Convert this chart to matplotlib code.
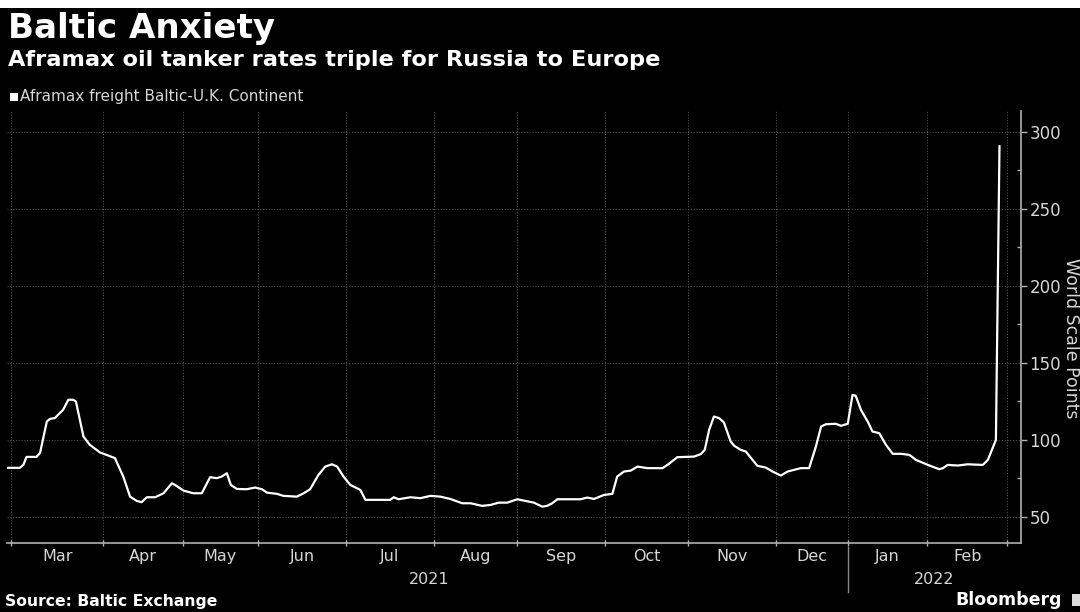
import numpy as np
import matplotlib
matplotlib.use("Agg")
import matplotlib.pyplot as plt
from matplotlib.patches import Rectangle
from matplotlib.lines import Line2D

# ---------------- data ----------------
months = ['Mar', 'Apr', 'May', 'Jun', 'Jul', 'Aug', 'Sep', 'Oct', 'Nov', 'Dec', 'Jan', 'Feb']
trading_days = [23, 20, 19, 22, 22, 21, 22, 21, 22, 18, 20, 20]   # business days per month
years = ['2021', '2022']
year_first_month = [0, 10]  # index into months

# x = trading-day index since 1 Mar 2021, y = World Scale points
day_idx = [-1.1, 2.1, 3.0, 3.8, 6.3, 7.2, 8.9, 9.7, 10.9, 13.0, 14.3, 15.5, 16.2, 18.1, 19.7,
           22.3, 23.9, 26.0, 28.1, 29.8, 31.5, 32.7, 34.0, 36.1, 38.2, 40.3, 41.1, 43.2, 45.7,
           47.8, 49.9, 51.6, 52.8, 54.1, 55.1, 56.6, 59.1, 61.2, 62.9, 64.2, 66.7, 68.3, 71.7,
           73.4, 75.0, 77.1, 78.8, 80.5, 81.8, 83.4, 85.1, 87.6, 88.9, 95.1, 96.0, 97.2, 100.2,
           102.7, 105.2, 107.7, 110.2, 113.2, 115.3, 118.2, 120.3, 122.4, 124.5, 127.0, 129.1,
           131.2, 133.3, 134.5, 135.8, 137.1, 142.9, 144.6, 146.3, 148.8, 150.9, 152.1, 153.8,
           155.5, 157.2, 159.7, 163.5, 165.1, 167.2, 171.4, 173.1, 174.1, 175.2, 176.4, 177.7,
           178.9, 180.6, 181.5, 183.1, 184.4, 187.3, 189.4, 191.1, 193.2, 194.9, 198.2, 200.3,
           202.0, 203.3, 204.5, 207.0, 208.3, 210.0, 211.2, 212.0, 213.3, 215.0, 216.2, 217.9,
           219.6, 221.3, 223.4, 225.5, 227.1, 230.1, 233.0, 233.9, 235.1, 237.6, 240.1, 243.9,
           245.2, 247.2, 248.1]
rate = [81.7, 81.7, 83.6, 88.8, 88.8, 91.4, 111.8, 113.5, 114.0, 119.4, 125.9, 125.9, 124.8,
        102.0, 96.6, 91.6, 90.1, 88.0, 76.0, 63.0, 60.2, 59.4, 62.6, 62.6, 65.2, 71.7, 70.6,
        66.9, 65.2, 65.2, 75.6, 75.0, 76.0, 78.2, 70.6, 68.0, 67.8, 68.9, 67.8, 65.6, 64.8,
        63.5, 63.0, 65.2, 67.8, 77.1, 82.5, 84.0, 82.5, 76.0, 70.6, 67.4, 60.9, 60.9, 62.6,
        61.3, 62.6, 62.0, 63.5, 63.0, 61.5, 58.7, 58.7, 57.0, 57.6, 59.1, 59.1, 61.3, 60.2,
        59.1, 56.5, 57.0, 58.7, 61.3, 61.3, 62.4, 61.5, 64.1, 64.8, 76.0, 79.3, 79.9, 82.5,
        81.5, 81.5, 84.3, 88.6, 89.0, 90.6, 93.4, 106.4, 115.0, 114.0, 111.2, 98.8, 96.0, 93.4,
        92.3, 83.0, 81.9, 79.3, 76.7, 79.3, 81.5, 81.5, 95.5, 108.5, 110.0, 110.3, 109.0,
        110.3, 129.1, 128.5, 119.4, 111.8, 105.3, 104.2, 96.6, 90.8, 90.8, 90.1, 86.9, 83.6,
        80.8, 81.5, 83.6, 83.2, 84.0, 83.6, 86.9, 99.9, 290.5]
y_ticks = [50, 100, 150, 200, 250, 300]
y_minor = [75, 125, 175, 225, 275]

W, H = 1080, 612
BG = 'black'
GRID = '#4e4e4e'
AXC = '#b0b0b0'
TXT = '#d6d6d6'

fig = plt.figure(figsize=(W / 100, H / 100), dpi=100, facecolor=BG)
plt.rcParams['font.family'] = ['DejaVu Sans']

def px_x(x):
    return x / W

def px_y(y):
    return 1 - y / H

ax_left, ax_right, ax_top, ax_bot = 7, 1021, 111, 543.3
ax = fig.add_axes([px_x(ax_left), px_y(ax_bot), (ax_right - ax_left) / W, (ax_bot - ax_top) / H])
ax.set_facecolor(BG)

ax.plot(day_idx, rate, color='white', lw=1.6, solid_joinstyle='round', zorder=3)

bounds = np.concatenate([[0], np.cumsum(trading_days)])
centers = (bounds[:-1] + bounds[1:]) / 2

ax.set_xlim(-1.1, 253.5)
ax.set_ylim(32.7, 313.4)

# grid
for b in bounds:
    ax.axvline(b, color=GRID, lw=0.8, ls=(0, (1, 1.5)), zorder=1)
for yv in y_ticks:
    ax.axhline(yv, color=GRID, lw=0.8, ls=(0, (1, 1.5)), zorder=1)

# spines
for s in ['left', 'top']:
    ax.spines[s].set_visible(False)
for s in ['bottom', 'right']:
    ax.spines[s].set_color(AXC)
    ax.spines[s].set_linewidth(1.2)

# x ticks
ax.set_xticks(bounds)
ax.set_xticklabels([])
ax.set_xticks(centers, minor=True)
ax.set_xticklabels(months, minor=True)
ax.tick_params(axis='x', which='major', length=4, width=1, color=AXC, direction='inout')
ax.tick_params(axis='x', which='minor', length=0, pad=4, labelsize=11.5, labelcolor=TXT)

# y ticks on the right
ax.yaxis.tick_right()
ax.set_yticks(y_ticks)
ax.set_yticks(y_minor, minor=True)
ax.tick_params(axis='y', which='major', length=4, width=1, color=AXC, direction='out',
               pad=2, labelsize=12, labelcolor=TXT, left=False)
ax.tick_params(axis='y', which='minor', length=3, width=1, color=AXC, direction='in', left=False)

# year labels and separator
trans = matplotlib.transforms.blended_transform_factory(ax.transData, ax.transAxes)
y_year = -(580 - ax_bot) / (ax_bot - ax_top)
x_lim_r = ax.get_xlim()[1]
for i, yr in enumerate(years):
    start = bounds[year_first_month[i]]
    end = bounds[year_first_month[i + 1]] if i + 1 < len(years) else x_lim_r
    ax.text((start + end) / 2, y_year, yr, transform=trans, ha='center', va='center',
            fontsize=11.5, color=TXT)
sep_x = bounds[year_first_month[1]]
ax.add_line(Line2D([sep_x, sep_x], [-(547 - ax_bot) / (ax_bot - ax_top), -(592 - ax_bot) / (ax_bot - ax_top)],
                   transform=trans, color='#8a8a8a', lw=1, clip_on=False))

# axis label at the right edge
fig.text(px_x(1079.5), px_y(338), 'World Scale Points', rotation=270, ha='right', va='center',
         fontsize=12.5, color=TXT)

# top white strip
fig.patches.append(Rectangle((0, px_y(8)), 1, 8 / H, transform=fig.transFigure,
                             facecolor='white', edgecolor='none'))

# titles
t1 = fig.text(px_x(8), px_y(38), 'Baltic Anxiety', fontsize=23, fontweight='bold',
              color='white', ha='left', va='baseline')
t2 = fig.text(px_x(8), px_y(66), 'Aframax oil tanker rates triple for Russia to Europe',
              fontsize=14.5, fontweight='bold', color='white', ha='left', va='baseline')
fig.patches.append(Rectangle((px_x(10), px_y(101)), 8 / W, 8 / H, transform=fig.transFigure,
                             facecolor='white', edgecolor='none'))
t3 = fig.text(px_x(20), px_y(101), 'Aframax freight Baltic-U.K. Continent', fontsize=9.5,
              color=TXT, ha='left', va='baseline')
t4 = fig.text(px_x(5), px_y(606), 'Source: Baltic Exchange', fontsize=10.5, fontweight='bold',
              color='white', ha='left', va='baseline')
t5 = fig.text(px_x(1062), px_y(605), 'Bloomberg', fontsize=13, fontweight='bold',
              color='white', ha='right', va='baseline')
fig.patches.append(Rectangle((px_x(1072), px_y(606)), 8 / W, 12 / H, transform=fig.transFigure,
                             facecolor='#dddddd', edgecolor='none'))

# fit text widths to the reference
fig.canvas.draw()
r = fig.canvas.get_renderer()
for t, target in [(t1, 267), (t2, 653), (t3, 285), (t4, 214), (t5, 106)]:
    w = t.get_window_extent(r).width
    t.set_fontsize(t.get_fontsize() * target / w)

fig.savefig('out.png', dpi=100, facecolor=BG)
